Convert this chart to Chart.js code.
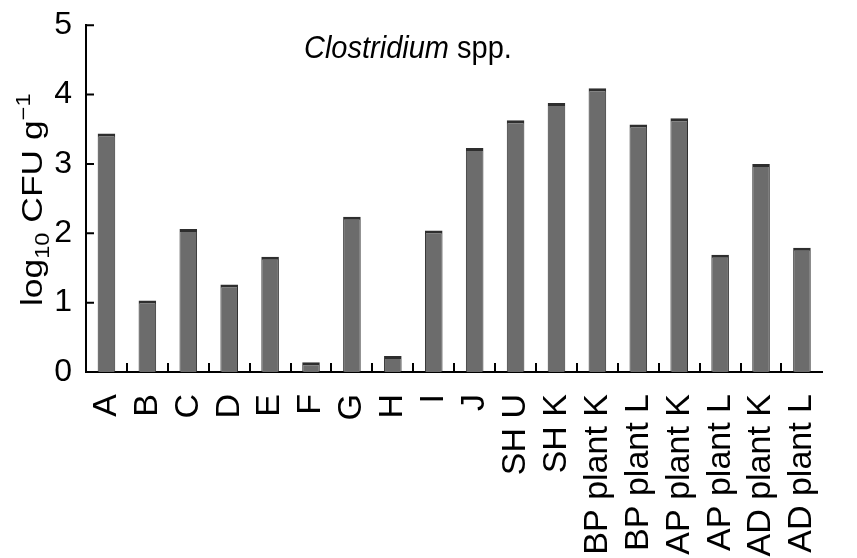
<!DOCTYPE html>
<html>
<head>
<meta charset="utf-8">
<script src="https://cdn.jsdelivr.net/npm/chart.js@4.4.0/dist/chart.umd.min.js"></script>
<style>
  html, body { margin: 0; padding: 0; background: #fff; }
  #wrap { width: 857px; height: 558px; }
</style>
</head>
<body>
<div id="wrap"><canvas id="myChart"></canvas></div>
<script>
const categories = ['A', 'B', 'C', 'D', 'E', 'F', 'G', 'H', 'I', 'J', 'SH U', 'SH K',
    'BP plant K', 'BP plant L', 'AP plant K', 'AP plant L', 'AD plant K', 'AD plant L'];
const cfuValues = [3.44, 1.03, 2.06, 1.26, 1.66, 0.14, 2.24, 0.23, 2.04, 3.23, 3.63, 3.88,
    4.09, 3.57, 3.66, 1.69, 3.00, 1.79];
const yTicks = [0, 1, 2, 3, 4, 5];
const titleItalic = 'Clostridium';
const titleRest = ' spp.';

const FONT = '"Liberation Sans", Arial, sans-serif';

// inward tick marks, title and y-axis label (sub/superscript)
const decorations = {
    id: 'decorations',
    afterDraw(chart) {
        const ctx = chart.ctx;
        const xs = chart.scales.x;
        const ys = chart.scales.y;
        ctx.save();
        ctx.strokeStyle = '#000';
        ctx.lineWidth = 2;
        ctx.beginPath();
        yTicks.forEach(v => {
            const py = ys.getPixelForValue(v);
            ctx.moveTo(xs.left, py);
            ctx.lineTo(xs.left + 8, py);
        });
        const step = xs.width / categories.length;
        for (let i = 1; i < categories.length; i++) {
            const px = Math.round(xs.left + i * step);
            ctx.moveTo(px, ys.bottom);
            ctx.lineTo(px, ys.bottom - 9);
        }
        ctx.stroke();

        // title
        ctx.fillStyle = '#000';
        ctx.textBaseline = 'alphabetic';
        ctx.textAlign = 'left';
        ctx.save();
        ctx.translate(xs.left + 0.296 * xs.width, 58);
        ctx.scale(1, 1.1);
        ctx.font = 'italic 29px ' + FONT;
        ctx.fillText(titleItalic, 0, 0);
        const w = ctx.measureText(titleItalic).width;
        ctx.font = '29px ' + FONT;
        ctx.fillText(titleRest, w, 0);
        ctx.restore();

        // y axis title
        ctx.save();
        ctx.translate(42, 306);
        ctx.rotate(-Math.PI / 2);
        ctx.scale(1.18, 1);
        let pos = 0;
        const part = (txt, size, dy) => {
            ctx.font = size + 'px ' + FONT;
            ctx.fillText(txt, pos, dy);
            pos += ctx.measureText(txt).width;
        };
        part('log', 30, 0);
        part('10', 20, 7);
        part(' CFU g', 30, 0);
        part('\u22121', 20, -12);
        ctx.restore();

        ctx.restore();
    }
};

const ctx = document.getElementById('myChart').getContext('2d');
new Chart(ctx, {
    type: 'bar',
    data: {
        labels: categories,
        datasets: [{
            data: cfuValues,
            backgroundColor: '#6c6c6c',
            borderColor: '#2e2e2e',
            borderWidth: { top: 3, left: 1, right: 1, bottom: 0 },
            borderSkipped: 'bottom',
            barPercentage: 0.43,
            categoryPercentage: 1
        }]
    },
    options: {
        responsive: true,
        maintainAspectRatio: false,
        animation: false,
        layout: { padding: { top: 22, right: 9, left: 0, bottom: 0 } },
        plugins: {
            legend: { display: false },
            tooltip: { enabled: false }
        },
        scales: {
            x: {
                grid: { display: false },
                border: { display: true, color: '#000', width: 2 },
                ticks: {
                    color: '#000',
                    font: { family: FONT, size: 34 },
                    minRotation: 90,
                    maxRotation: 90,
                    padding: 14,
                    autoSkip: false
                },
                afterFit(scale) { scale.height = 186; }
            },
            y: {
                min: 0,
                max: 5,
                grid: { display: false },
                border: { display: true, color: '#000', width: 2 },
                ticks: {
                    stepSize: 1,
                    color: '#000',
                    font: { family: FONT, size: 32 },
                    padding: 6
                },
                afterFit(scale) { scale.width = 86; }
            }
        }
    },
    plugins: [decorations]
});
</script>
</body>
</html>
